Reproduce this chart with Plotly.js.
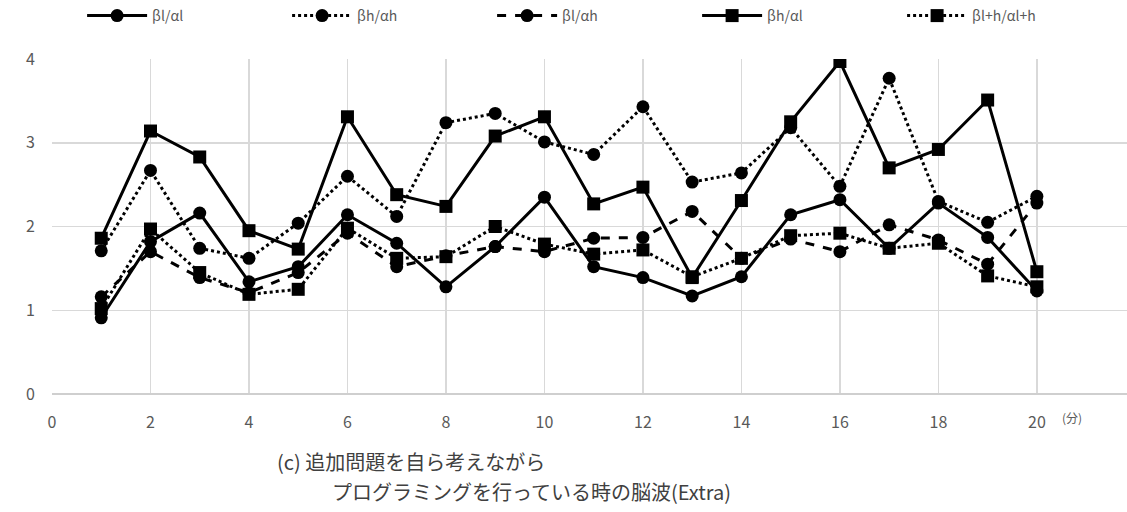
<!DOCTYPE html>
<html>
<head>
<meta charset="utf-8">
<script src="https://cdn.plot.ly/plotly-3.0.1.min.js"></script>
<style>html,body{margin:0;padding:0;background:#fff;}#chart{width:1127px;height:512px;}</style>
</head>
<body>
<div id="chart"></div>
<script>
const minutes = [1,2,3,4,5,6,7,8,9,10,11,12,13,14,15,16,17,18,19,20];
const seriesNames = ['βl/αl','βh/αh','βl/αh','βh/αl','βl+h/αl+h'];
const betaL_alphaL = [0.91,1.82,2.16,1.34,1.52,2.14,1.80,1.28,1.76,2.35,1.52,1.39,1.17,1.40,2.14,2.32,1.74,2.28,1.87,1.23];
const betaH_alphaH = [1.71,2.67,1.74,1.62,2.04,2.60,2.12,3.24,3.35,3.01,2.86,3.43,2.53,2.64,3.18,2.48,3.77,2.30,2.05,2.36];
const betaL_alphaH = [1.16,1.70,1.39,1.21,1.45,1.92,1.52,1.65,1.76,1.70,1.86,1.87,2.18,1.62,1.85,1.70,2.02,1.84,1.55,2.28];
const betaH_alphaL = [1.86,3.14,2.83,1.95,1.73,3.31,2.38,2.24,3.08,3.31,2.27,2.47,1.39,2.31,3.25,3.97,2.70,2.92,3.51,1.46];
const betaLH_alphaLH = [1.02,1.97,1.45,1.19,1.25,1.98,1.62,1.64,2.00,1.79,1.67,1.72,1.40,1.62,1.89,1.92,1.74,1.80,1.41,1.28];
const xTicks = [0,2,4,6,8,10,12,14,16,18,20];
const yTicks = [0,1,2,3,4];
const xUnit = '(分)';
const caption1 = '(c) 追加問題を自ら考えながら';
const caption2 = 'プログラミングを行っている時の脳波(Extra)';

const values = [betaL_alphaL, betaH_alphaH, betaL_alphaH, betaH_alphaL, betaLH_alphaLH];
const dashes = ['solid','dot','dash','solid','dot'];
const symbols = ['circle','circle','circle','square','square'];

const traces = values.map((v,i)=>({
  x: minutes, y: v, name: seriesNames[i], type:'scatter', mode:'lines+markers',
  line:{color:'#000', width:3, dash:dashes[i]},
  marker:{color:'#000', size:13, symbol:symbols[i]}
}));

const font = 'Noto Sans CJK JP, Noto Sans, sans-serif';
const layout = {
  width:1127, height:512,
  margin:{l:52, r:0, t:58, b:118},
  paper_bgcolor:'#fff', plot_bgcolor:'#fff',
  font:{family:font, color:'#595959'},
  showlegend:true,
  legend:{orientation:'h', x:0.028, xanchor:'left', y:1.128, yanchor:'middle',
    entrywidth:130, entrywidthmode:'pixels', font:{size:14, color:'#595959'}, itemwidth:60},
  xaxis:{range:[0,21.83], tickvals:xTicks, ticktext:xTicks.map(String), showgrid:true, gridcolor:'#d9d9d9', gridwidth:1.5,
    zeroline:false, showline:false, ticks:'', tickfont:{size:16, color:'#595959'}, ticklabelstandoff:17, fixedrange:true},
  yaxis:{range:[0,4], tickvals:yTicks, showgrid:true, gridcolor:'#d9d9d9', gridwidth:1.5, zeroline:true, zerolinecolor:'#cfcfcf', zerolinewidth:2,
    showline:false, ticks:'', tickfont:{size:16, color:'#595959'}, ticklabelstandoff:16, fixedrange:true},
  annotations:[
    {text:xUnit, xref:'paper', yref:'paper', x:0.9377, y:-0.07, xanchor:'left', yanchor:'middle', showarrow:false, font:{size:12, color:'#595959'}},
    {text:caption1, xref:'paper', yref:'paper', x:0.2074, y:-0.2024, xanchor:'left', yanchor:'middle', showarrow:false, font:{size:20, color:'#404040'}},
    {text:caption2, xref:'paper', yref:'paper', x:0.2586, y:-0.2917, xanchor:'left', yanchor:'middle', showarrow:false, font:{size:20, color:'#404040'}}
  ]
};
Plotly.newPlot('chart', traces, layout, {displayModeBar:false, staticPlot:true});
</script>
</body>
</html>
